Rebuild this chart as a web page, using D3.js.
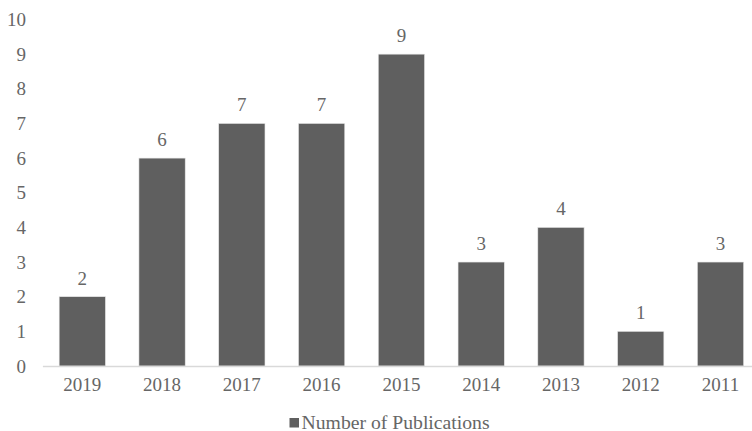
<!DOCTYPE html>
<html>
<head>
<meta charset="utf-8">
<script src="https://cdn.jsdelivr.net/npm/d3@7"></script>
<style>
  html, body { margin: 0; padding: 0; background: #fff; }
  svg { display: block; }
  text { font-family: "Liberation Serif", "Times New Roman", serif; fill: #666666; }
</style>
</head>
<body>
<svg id="chart" width="752" height="431"></svg>
<script>
// Publications per year
const years = ["2019", "2018", "2017", "2016", "2015", "2014", "2013", "2012", "2011"];
const publications = [2, 6, 7, 7, 9, 3, 4, 1, 3];
const yTicks = [0, 1, 2, 3, 4, 5, 6, 7, 8, 9, 10];
const seriesName = "Number of Publications";

const svg = d3.select("#chart");
const barColor = "#5f5f5f";
const textColor = "#666666";
const fontSize = 19;

const x = d3.scaleBand()
  .domain(years)
  .range([42.4, 760.4])
  .paddingInner(0.42)
  .paddingOuter(0.21);

const y = d3.scaleLinear()
  .domain([0, 10])
  .range([366, 19.5]);

// y tick labels (no axis line, no gridlines)
const yAxis = d3.axisLeft(y).tickValues(yTicks).tickSize(0).tickPadding(0);
const gy = svg.append("g").attr("transform", "translate(26,0)").call(yAxis);
gy.select(".domain").remove();
gy.selectAll("text").style("font-size", fontSize + "px").attr("fill", textColor)
  .style("font-family", "Liberation Serif, serif");

// bars
svg.append("g").selectAll("rect")
  .data(years)
  .join("rect")
  .attr("x", d => x(d))
  .attr("width", x.bandwidth())
  .attr("y", (d, i) => y(publications[i]))
  .attr("height", (d, i) => y(0) - y(publications[i]))
  .attr("fill", barColor)
  .attr("stroke", "#e6e6e6")
  .attr("stroke-width", 0.6);

// value labels
svg.append("g").selectAll("text")
  .data(years)
  .join("text")
  .attr("x", d => x(d) + x.bandwidth() / 2)
  .attr("y", (d, i) => y(publications[i]) - 12)
  .attr("text-anchor", "middle")
  .style("font-size", fontSize + "px")
  .text((d, i) => publications[i]);

// x axis
const xAxis = d3.axisBottom(x).tickSize(0).tickPadding(12);
const gx = svg.append("g").attr("transform", `translate(0,${y(0)})`).call(xAxis);
gx.select(".domain").attr("stroke", "#d9d9d9").attr("stroke-width", 1.5);
gx.selectAll("text").style("font-size", fontSize + "px").attr("fill", textColor)
  .style("font-family", "Liberation Serif, serif");

// legend
const legend = svg.append("g").attr("transform", "translate(289.5,418)");
legend.append("rect").attr("x", 0).attr("y", 0).attr("width", 9.5).attr("height", 9.5).attr("fill", barColor);
legend.append("text").attr("x", 12).attr("y", 10.5)
  .style("font-size", "19.7px").text(seriesName);
</script>
</body>
</html>
